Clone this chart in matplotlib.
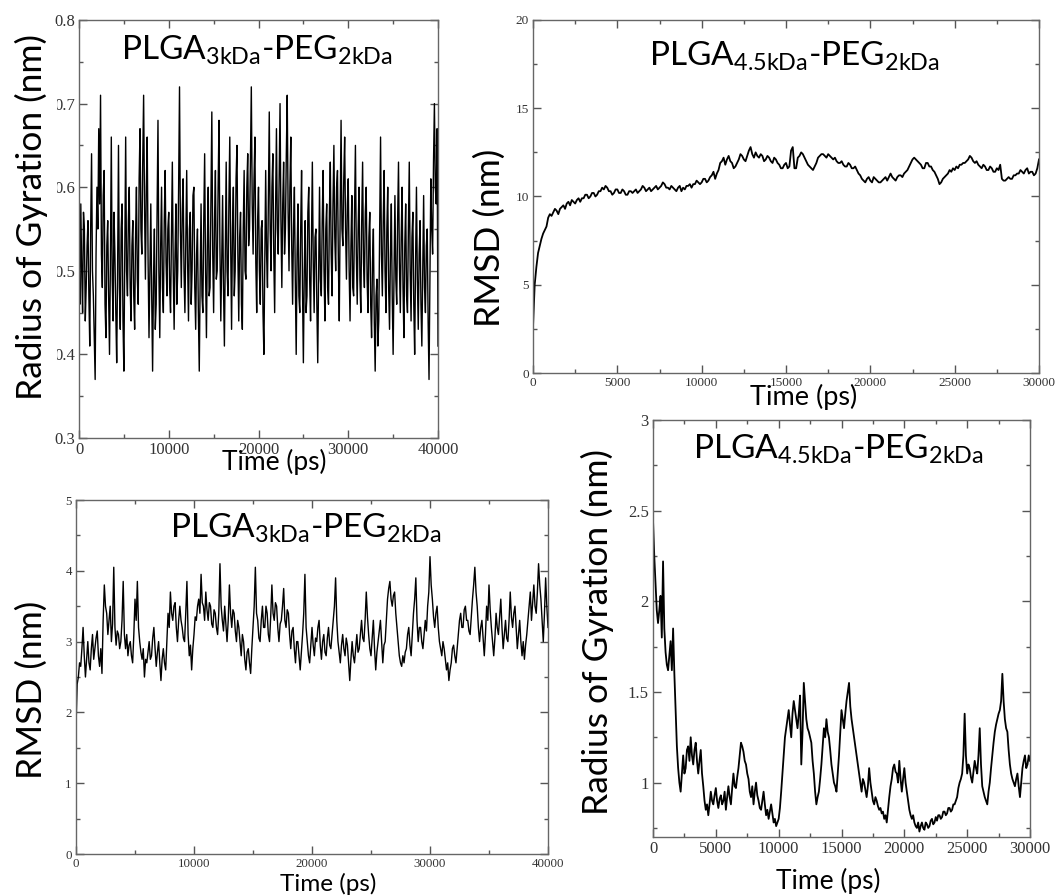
import numpy as np
import matplotlib
matplotlib.use("Agg")
import matplotlib.pyplot as plt
from matplotlib.ticker import MultipleLocator, FuncFormatter, FixedLocator

W, H = 1055, 896
fig = plt.figure(figsize=(W / 100, H / 100), dpi=100)

LABEL_FONT = "Lato"
TICK_FONT = "Liberation Serif"

# ---- Rg, PLGA 3kDa - PEG 2kDa (0-40 ns, every 100 ps) ----
rg_3k = [
    0.52, 0.46, 0.58, 0.50, 0.45, 0.57, 0.55, 0.44, 0.48, 0.53, 0.56, 0.47, 0.41, 0.55, 0.64, 0.50, 0.47, 0.42, 0.37, 0.52,
    0.60, 0.55, 0.67, 0.58, 0.71, 0.52, 0.48, 0.59, 0.62, 0.46, 0.42, 0.53, 0.56, 0.47, 0.40, 0.51, 0.66, 0.49, 0.44, 0.57,
    0.52, 0.45, 0.39, 0.50, 0.65, 0.48, 0.43, 0.55, 0.58, 0.44, 0.38, 0.52, 0.66, 0.50, 0.47, 0.56, 0.60, 0.48, 0.44, 0.53,
    0.56, 0.47, 0.43, 0.54, 0.60, 0.49, 0.46, 0.61, 0.67, 0.55, 0.52, 0.63, 0.71, 0.58, 0.49, 0.60, 0.66, 0.51, 0.42, 0.50,
    0.58, 0.47, 0.38, 0.49, 0.55, 0.43, 0.46, 0.57, 0.68, 0.50, 0.42, 0.53, 0.60, 0.48, 0.45, 0.56, 0.62, 0.51, 0.47, 0.55,
    0.57, 0.48, 0.45, 0.54, 0.63, 0.50, 0.43, 0.52, 0.58, 0.46, 0.50, 0.60, 0.72, 0.55, 0.48, 0.57, 0.61, 0.50, 0.45, 0.54,
    0.62, 0.51, 0.44, 0.55, 0.57, 0.46, 0.50, 0.59, 0.60, 0.48, 0.43, 0.52, 0.55, 0.45, 0.38, 0.49, 0.58, 0.47, 0.45, 0.56,
    0.64, 0.50, 0.42, 0.53, 0.60, 0.47, 0.48, 0.58, 0.69, 0.52, 0.45, 0.56, 0.62, 0.49, 0.50, 0.60, 0.68, 0.53, 0.44, 0.51,
    0.59, 0.48, 0.41, 0.52, 0.63, 0.50, 0.47, 0.58, 0.66, 0.53, 0.43, 0.55, 0.60, 0.47, 0.50, 0.61, 0.65, 0.52, 0.44, 0.54,
    0.57, 0.46, 0.43, 0.55, 0.62, 0.50, 0.49, 0.60, 0.64, 0.53, 0.55, 0.63, 0.72, 0.58, 0.52, 0.61, 0.66, 0.51, 0.45, 0.56,
    0.60, 0.50, 0.46, 0.55, 0.56, 0.45, 0.40, 0.51, 0.62, 0.52, 0.48, 0.59, 0.69, 0.55, 0.50, 0.60, 0.64, 0.52, 0.45, 0.57,
    0.67, 0.55, 0.52, 0.61, 0.70, 0.56, 0.48, 0.58, 0.63, 0.52, 0.55, 0.64, 0.71, 0.57, 0.50, 0.60, 0.66, 0.53, 0.46, 0.55,
    0.60, 0.49, 0.40, 0.52, 0.58, 0.47, 0.45, 0.55, 0.62, 0.48, 0.39, 0.50, 0.56, 0.45, 0.47, 0.57, 0.60, 0.49, 0.44, 0.54,
    0.63, 0.51, 0.45, 0.54, 0.55, 0.46, 0.39, 0.50, 0.60, 0.49, 0.47, 0.56, 0.62, 0.50, 0.44, 0.55, 0.58, 0.48, 0.46, 0.57,
    0.63, 0.52, 0.47, 0.58, 0.65, 0.54, 0.50, 0.60, 0.62, 0.51, 0.44, 0.57, 0.68, 0.55, 0.53, 0.61, 0.66, 0.55, 0.49, 0.58,
    0.61, 0.50, 0.44, 0.53, 0.59, 0.48, 0.47, 0.57, 0.65, 0.52, 0.46, 0.55, 0.60, 0.49, 0.45, 0.56, 0.63, 0.51, 0.48, 0.57,
    0.60, 0.49, 0.45, 0.54, 0.57, 0.46, 0.42, 0.51, 0.55, 0.44, 0.38, 0.47, 0.49, 0.41, 0.44, 0.55, 0.66, 0.52, 0.47, 0.56,
    0.62, 0.50, 0.45, 0.55, 0.60, 0.48, 0.43, 0.52, 0.58, 0.47, 0.40, 0.50, 0.59, 0.49, 0.46, 0.56, 0.63, 0.51, 0.45, 0.54,
    0.60, 0.48, 0.42, 0.53, 0.58, 0.47, 0.45, 0.55, 0.63, 0.50, 0.44, 0.54, 0.57, 0.46, 0.40, 0.51, 0.60, 0.49, 0.43, 0.52,
    0.56, 0.46, 0.41, 0.50, 0.59, 0.48, 0.45, 0.53, 0.55, 0.44, 0.37, 0.49, 0.61, 0.55, 0.52, 0.63, 0.70, 0.60, 0.58, 0.67,
    0.41,
]

# ---- RMSD, PLGA 4.5kDa - PEG 2kDa (0-30 ns, every 100 ps) ----
rmsd_45k = [
    2.6, 5.0, 6.0, 6.8, 7.2, 7.6, 7.9, 8.1, 8.3, 8.8, 9.0, 8.9, 9.1, 9.3, 9.2, 9.0, 9.3, 9.4, 9.5, 9.3,
    9.6, 9.7, 9.5, 9.8, 9.7, 9.6, 9.8, 9.9, 9.7, 9.9, 9.9, 10.1, 10.1, 9.9, 10.0, 10.2, 10.2, 10.0, 10.1, 10.3,
    10.3, 10.5, 10.4, 10.6, 10.5, 10.3, 10.3, 10.1, 10.2, 10.4, 10.4, 10.2, 10.2, 10.4, 10.3, 10.1, 10.1, 10.3, 10.3, 10.2,
    10.3, 10.4, 10.2, 10.3, 10.4, 10.6, 10.5, 10.3, 10.4, 10.5, 10.3, 10.4, 10.5, 10.6, 10.4, 10.5, 10.6, 10.8, 10.7, 10.5,
    10.5, 10.4, 10.6, 10.5, 10.4, 10.3, 10.5, 10.6, 10.3, 10.5, 10.4, 10.6, 10.6, 10.7, 10.5, 10.7, 10.7, 10.9, 10.8, 10.7,
    10.8, 11.0, 11.0, 10.8, 10.9, 11.1, 11.2, 11.4, 11.0, 11.3, 11.5, 11.9, 12.0, 12.2, 11.8, 12.1, 12.3, 12.0, 11.9, 11.6,
    11.7, 11.9, 12.1, 12.4, 12.3, 12.1, 12.0, 12.3, 12.6, 12.8, 12.4, 12.2, 12.5, 12.3, 12.2, 12.4, 12.3, 12.0, 12.1, 12.3,
    12.2, 12.0, 11.9, 12.2, 12.1, 11.9, 11.8, 11.6, 11.6, 11.8, 11.9, 11.6, 11.7, 12.6, 12.8, 11.6, 11.6, 12.2, 12.3, 12.5,
    12.4, 12.2, 12.0, 11.8, 11.7, 11.6, 11.5, 11.7, 11.9, 12.2, 12.3, 12.4, 12.4, 12.3, 12.2, 12.4, 12.3, 12.2, 12.1, 12.2,
    12.0, 11.9, 11.9, 12.0, 11.8, 11.7, 11.7, 11.9, 11.8, 11.6, 11.6, 11.7, 11.5, 11.3, 11.2, 11.0, 10.9, 10.8, 11.0, 11.1,
    10.9, 10.8, 11.1, 11.0, 10.9, 10.8, 10.8, 10.9, 11.0, 11.1, 10.9, 11.1, 11.3, 11.1, 11.0, 10.9, 11.1, 11.2, 11.2, 11.1,
    11.3, 11.4, 11.5, 11.7, 11.9, 12.1, 12.2, 12.1, 12.0, 11.9, 11.8, 11.6, 11.6, 11.9, 11.9, 11.7, 11.7, 11.5, 11.4, 11.2,
    11.0, 10.7, 10.8, 11.0, 11.1, 11.2, 11.3, 11.5, 11.4, 11.6, 11.5, 11.7, 11.6, 11.8, 11.8, 11.9, 11.9, 12.0, 12.1, 12.3,
    12.2, 12.0, 11.9, 12.0, 11.8, 11.7, 11.6, 11.8, 11.7, 11.5, 11.5, 11.7, 11.6, 11.4, 11.4, 11.6, 11.5, 11.8, 11.0, 10.9,
    10.9, 11.0, 11.1, 11.0, 11.0, 11.2, 11.2, 11.3, 11.3, 11.5, 11.4, 11.3, 11.5, 11.6, 11.3, 11.4, 11.4, 11.2, 11.3, 11.6,
    12.1,
]

# ---- RMSD, PLGA 3kDa - PEG 2kDa (0-40 ns, every 100 ps) ----
rmsd_3k = [
    1.8, 2.4, 2.5, 2.7, 2.65, 2.9, 3.2, 2.8, 2.5, 2.75, 3.0, 2.7, 2.6, 2.9, 3.1, 2.75, 2.9, 3.05, 3.15, 2.8,
    2.65, 2.9, 2.55, 3.3, 3.8, 3.5, 3.4, 3.1, 3.3, 3.5, 3.0, 3.25, 4.05, 3.2, 2.95, 3.15, 3.1, 2.9, 3.0, 3.3,
    3.85, 3.1, 2.9, 3.1, 2.8, 2.95, 3.0, 2.8, 2.7, 3.1, 3.6, 3.3, 3.85, 3.2, 3.0, 2.85, 2.75, 2.9, 2.5, 2.75,
    2.7, 2.85, 3.0, 2.75, 2.8, 3.05, 3.2, 2.9, 2.65, 2.85, 3.0, 2.7, 2.45, 2.75, 2.9, 2.7, 2.6, 3.0, 3.4, 3.2,
    3.7, 3.4, 3.3, 3.5, 3.55, 3.2, 3.0, 3.3, 3.5, 3.3, 3.2, 3.05, 3.0, 3.4, 3.85, 3.1, 2.8, 2.95, 2.6, 2.9,
    3.1, 3.35, 3.3, 3.5, 3.6, 3.4, 3.95, 3.55, 3.5, 3.3, 3.7, 3.45, 3.3, 3.55, 3.5, 3.25, 3.2, 3.45, 3.4, 3.2,
    3.1, 3.4, 4.1, 3.5, 3.3, 3.15, 3.5, 3.25, 3.0, 3.3, 3.8, 3.4, 3.2, 3.45, 3.4, 3.15, 3.0, 3.3, 3.2, 3.0,
    2.8, 3.1, 3.0, 2.75, 2.6, 2.85, 2.9, 2.7, 2.55, 2.9, 3.2, 3.5, 4.05, 3.4, 3.3, 3.05, 3.0, 3.3, 3.5, 3.2,
    3.2, 3.5, 3.4, 3.1, 3.0, 3.35, 3.8, 3.4, 3.3, 3.55, 3.5, 3.2, 3.0, 3.25, 3.3, 3.5, 3.75, 3.3, 3.2, 3.45,
    3.4, 3.1, 2.9, 3.15, 3.2, 2.9, 2.7, 3.0, 3.0, 2.8, 2.6, 2.85, 3.1, 3.4, 3.95, 3.2, 3.0, 2.8, 2.7, 2.95,
    3.2, 2.95, 2.8, 3.05, 3.0, 3.2, 3.3, 2.95, 2.75, 3.0, 3.1, 2.85, 2.8, 3.05, 3.2, 2.95, 2.9, 3.1, 3.3, 3.5,
    3.9, 3.3, 3.0, 2.85, 2.7, 2.95, 3.1, 2.9, 2.8, 3.05, 2.95, 2.7, 2.45, 2.75, 3.0, 2.8, 2.7, 2.9, 3.1, 2.85,
    2.9, 3.1, 3.3, 3.05, 3.0, 3.3, 3.7, 3.35, 3.1, 2.9, 2.8, 3.05, 3.3, 2.9, 2.6, 2.85, 3.0, 3.15, 3.3, 3.0,
    2.7, 2.95, 3.0, 3.3, 3.6, 3.75, 3.85, 3.6, 3.5, 3.65, 3.7, 3.4, 3.2, 3.0, 2.8, 2.7, 2.65, 2.8, 2.7, 2.85,
    2.9, 3.1, 3.2, 2.95, 2.8, 3.1, 3.4, 3.6, 3.9, 3.3, 3.0, 3.2, 3.2, 3.0, 2.9, 3.1, 3.3, 3.15, 3.5, 3.7,
    4.2, 3.8, 3.6, 3.35, 3.2, 3.4, 3.5, 3.2, 3.0, 2.9, 2.8, 3.0, 2.9, 2.75, 2.6, 2.7, 2.45, 2.6, 2.7, 2.9,
    2.95, 2.8, 2.7, 2.9, 3.1, 3.3, 3.4, 3.2, 3.2, 3.45, 3.5, 3.3, 3.3, 3.15, 3.1, 3.35, 3.6, 3.8, 4.05, 3.7,
    3.5, 3.2, 3.0, 3.2, 3.3, 3.05, 2.8, 3.1, 3.5, 3.3, 3.8, 3.45, 3.2, 3.0, 2.8, 3.05, 3.4, 3.2, 3.1, 3.35,
    3.6, 3.2, 2.9, 3.1, 3.3, 3.05, 3.0, 3.3, 3.7, 3.35, 3.2, 3.4, 3.5, 3.2, 2.9, 3.1, 3.3, 3.0, 2.8, 3.0,
    2.75, 2.95, 3.1, 3.3, 3.5, 3.7, 3.3, 3.55, 3.8, 3.5, 3.4, 3.7, 4.1, 3.8, 3.6, 3.3, 3.0, 3.4, 3.9, 3.5,
    3.2,
]

# ---- Rg, PLGA 4.5kDa - PEG 2kDa (0-30 ns, every 100 ps) ----
rg_45k = [
    2.45, 2.25, 2.10, 1.95, 1.88, 1.95, 2.03, 1.80, 2.22, 1.85, 1.72, 1.65, 1.62, 1.70, 1.78, 1.62, 1.85, 1.60, 1.40, 1.20,
    1.08, 1.00, 0.95, 1.05, 1.15, 1.05, 1.08, 1.18, 1.20, 1.12, 1.25, 1.15, 1.10, 1.18, 1.22, 1.12, 1.05, 1.12, 1.18, 1.05,
    0.98, 0.90, 0.85, 0.88, 0.82, 0.88, 0.95, 0.90, 0.88, 0.93, 0.97, 0.90, 0.86, 0.91, 0.93, 0.88, 0.90, 0.95, 0.85, 0.92,
    0.98, 0.92, 0.88, 0.97, 1.05, 0.98, 0.97, 1.03, 1.08, 1.15, 1.22, 1.20, 1.17, 1.12, 1.10, 1.05, 1.02, 0.95, 0.92, 0.98,
    0.88, 0.95, 1.00, 0.93, 0.90, 0.86, 0.85, 0.90, 0.95, 0.88, 0.82, 0.85, 0.80, 0.84, 0.88, 0.83, 0.78, 0.80, 0.76, 0.78,
    0.80, 0.86, 0.95, 1.05, 1.15, 1.25, 1.30, 1.35, 1.40, 1.32, 1.25, 1.38, 1.45, 1.40, 1.35, 1.30, 1.38, 1.48, 1.10, 1.28,
    1.55, 1.45, 1.35, 1.30, 1.28, 1.25, 1.22, 1.12, 1.05, 0.95, 0.88, 0.92, 0.95, 1.02, 1.10, 1.20, 1.30, 1.25, 1.35, 1.28,
    1.25, 1.18, 1.10, 1.05, 1.00, 0.98, 0.95, 1.05, 1.15, 1.28, 1.40, 1.35, 1.30, 1.38, 1.45, 1.50, 1.55, 1.42, 1.35, 1.30,
    1.25, 1.20, 1.15, 1.10, 1.05, 1.00, 0.95, 1.02, 1.00, 0.96, 0.92, 0.98, 1.08, 1.00, 0.95, 0.90, 0.88, 0.92, 0.90, 0.87,
    0.85, 0.86, 0.83, 0.84, 0.80, 0.82, 0.78, 0.85, 0.92, 0.98, 1.02, 1.08, 1.10, 1.06, 1.05, 1.00, 1.12, 1.02, 0.95, 1.02,
    1.08, 1.00, 0.95, 0.90, 0.85, 0.82, 0.80, 0.82, 0.78, 0.76, 0.75, 0.78, 0.73, 0.76, 0.78, 0.75, 0.74, 0.78, 0.77, 0.75,
    0.76, 0.79, 0.80, 0.77, 0.78, 0.81, 0.79, 0.82, 0.82, 0.80, 0.81, 0.84, 0.84, 0.82, 0.83, 0.86, 0.86, 0.84, 0.85, 0.88,
    0.88, 0.90, 0.92, 0.97, 1.00, 1.02, 1.05, 1.15, 1.38, 1.15, 1.05, 1.10, 1.08, 1.03, 1.00, 1.06, 1.12, 1.08, 1.05, 1.15,
    1.30, 1.10, 0.98, 0.95, 0.92, 0.90, 0.88, 0.95, 1.00, 1.08, 1.15, 1.22, 1.28, 1.32, 1.35, 1.38, 1.40, 1.45, 1.60, 1.45,
    1.35, 1.30, 1.28, 1.18, 1.10, 1.05, 1.02, 1.00, 0.98, 1.02, 1.05, 0.98, 0.92, 1.00, 1.08, 1.12, 1.15, 1.08, 1.10, 1.15,
    1.12,
]

t_rg_3k = np.linspace(0, 40000, len(rg_3k))
t_rmsd_45k = np.linspace(0, 30000, len(rmsd_45k))
t_rmsd_3k = np.linspace(0, 40000, len(rmsd_3k))
t_rg_45k = np.linspace(0, 30000, len(rg_45k))

title_3k = r"$\mathregular{PLGA_{3kDa}}$-$\mathregular{PEG_{2kDa}}$"
title_45k = r"$\mathregular{PLGA_{4.5kDa}}$-$\mathregular{PEG_{2kDa}}$"


def fx(px):
    return px / W


def fy(py):
    return 1 - py / H


def make_axes(x0, y0, x1, y1):
    return fig.add_axes([fx(x0), fy(y1), fx(x1 - x0), (y1 - y0) / H])


def style_ticklabels(ax, size):
    for lab in ax.get_xticklabels() + ax.get_yticklabels():
        lab.set_fontfamily(TICK_FONT)
        lab.set_fontsize(size)
        lab.set_color("#333333")


def style(ax, xlim, ylim, xmaj, xmin, ymaj, ymin, tick_size, yfmt="%g"):
    ax.set_xlim(*xlim)
    ax.set_ylim(*ylim)
    ax.xaxis.set_major_locator(MultipleLocator(xmaj))
    ax.xaxis.set_minor_locator(MultipleLocator(xmin))
    ax.yaxis.set_major_locator(MultipleLocator(ymaj))
    ax.yaxis.set_minor_locator(MultipleLocator(ymin))
    ax.yaxis.set_major_formatter(FuncFormatter(lambda v, p: yfmt % v))
    ax.xaxis.set_major_formatter(FuncFormatter(lambda v, p: "%d" % round(v)))
    ax.tick_params(which="both", direction="in", top=True, right=True,
                   color="#555555", width=1.0)
    ax.tick_params(which="major", length=6, pad=3)
    ax.tick_params(which="minor", length=3)
    for sp in ax.spines.values():
        sp.set_color("#666666")
        sp.set_linewidth(1.0)
    style_ticklabels(ax, tick_size)


def text_at(px, py, s, size, rot=0, ha="center", va="center", bbox=None):
    fig.text(fx(px), fy(py), s, fontsize=size, rotation=rot, ha=ha, va=va,
             family=LABEL_FONT, color="black", bbox=bbox)


white_box = dict(facecolor="white", edgecolor="none", pad=7)

# Panel: Rg 3kDa
ax1 = make_axes(79, 20, 438, 438)
ax1.plot(t_rg_3k, rg_3k, color="black", lw=1.0)
style(ax1, (0, 40000), (0.3, 0.8), 10000, 5000, 0.1, 0.05, 12, "%.1f")
text_at(257, 60, title_3k, 24, va="baseline")
text_at(31, 217, "Radius of Gyration (nm)", 25.5, rot=90, bbox=white_box)
text_at(274, 462, "Time (ps)", 19)

# Panel: RMSD 4.5kDa
ax2 = make_axes(533, 20, 1039, 373)
ax2.plot(t_rmsd_45k, rmsd_45k, color="black", lw=1.3)
style(ax2, (0, 30000), (0, 20), 5000, 2500, 5, 2.5, 9.5)
text_at(794, 66, title_45k, 24, va="baseline")
text_at(490, 238, "RMSD (nm)", 25.5, rot=90)
text_at(804, 397, "Time (ps)", 19.5)

# Panel: RMSD 3kDa
ax3 = make_axes(76, 500, 548, 854)
ax3.plot(t_rmsd_3k, rmsd_3k, color="black", lw=1.0)
style(ax3, (0, 40000), (0, 5), 10000, 5000, 1, 0.5, 9.3)
text_at(306, 538, title_3k, 24, va="baseline")
text_at(32, 690, "RMSD (nm)", 25.5, rot=90)
text_at(328, 884, "Time (ps)", 17.5)

# Panel: Rg 4.5kDa
ax4 = make_axes(653, 420, 1030, 837)
ax4.plot(t_rg_45k, rg_45k, color="black", lw=1.3)
style(ax4, (0, 30000), (0.7, 3.0), 5000, 2500, 0.5, 0.25, 12)
ax4.yaxis.set_major_locator(FixedLocator([1, 1.5, 2, 2.5, 3]))
ax4.yaxis.set_minor_locator(FixedLocator([0.75, 1.25, 1.75, 2.25, 2.75]))
style_ticklabels(ax4, 12)
text_at(838, 459, title_45k, 24, va="baseline")
text_at(597, 632, "Radius of Gyration (nm)", 25.5, rot=90)
text_at(828, 881, "Time (ps)", 19)

fig.savefig("out.png", dpi=100, facecolor="white")
